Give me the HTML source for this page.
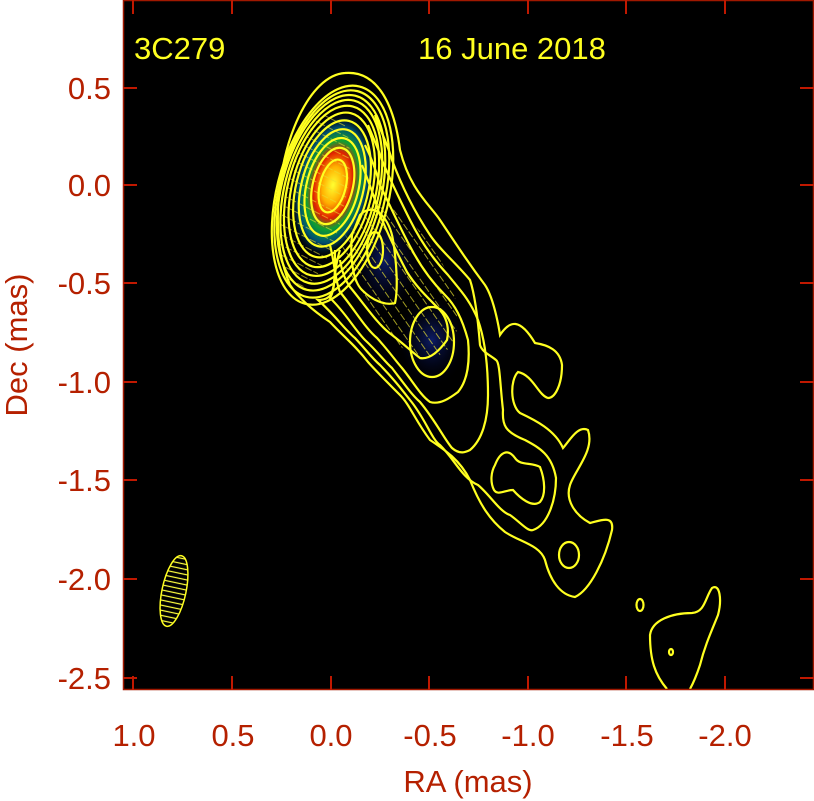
<!DOCTYPE html>
<html><head><meta charset="utf-8"><style>
html,body{margin:0;padding:0;background:#fff;}
svg{display:block;}
text{font-family:"Liberation Sans",sans-serif;}
</style></head><body>
<svg width="814" height="801" viewBox="0 0 814 801" xmlns="http://www.w3.org/2000/svg">
<defs>
<radialGradient id="core" cx="0.5" cy="0.5" r="0.5">
<stop offset="0" stop-color="#ffff30"/>
<stop offset="0.25" stop-color="#ffb000"/>
<stop offset="0.45" stop-color="#e02000"/>
<stop offset="0.6" stop-color="#10a030"/>
<stop offset="0.78" stop-color="#005070"/>
<stop offset="1" stop-color="#000010" stop-opacity="0"/>
</radialGradient>
<radialGradient id="blue" cx="0.5" cy="0.5" r="0.5">
<stop offset="0" stop-color="#0c1c66"/>
<stop offset="1" stop-color="#000010" stop-opacity="0"/>
</radialGradient>
<pattern id="hatch" width="6" height="5" patternUnits="userSpaceOnUse">
<line x1="0" y1="2.5" x2="6" y2="2.5" stroke="#ffff40" stroke-width="1.2"/>
</pattern>
<pattern id="pol" width="9" height="9" patternUnits="userSpaceOnUse" patternTransform="rotate(-5)">
<line x1="4" y1="0" x2="4" y2="7" stroke="#e8e030" stroke-width="1"/>
</pattern>
<pattern id="pol2" width="9" height="9" patternUnits="userSpaceOnUse" patternTransform="rotate(-75)">
<line x1="4" y1="0" x2="4" y2="7" stroke="#e8e030" stroke-width="1"/>
</pattern>
</defs>
<rect x="123" y="0" width="691" height="690" fill="#000"/>
<ellipse cx="385" cy="260" rx="35" ry="55" fill="url(#blue)"/>
<ellipse cx="432" cy="340" rx="35" ry="45" fill="url(#blue)"/>
<ellipse cx="400" cy="280" rx="45" ry="85" transform="rotate(-30 400 280)" fill="url(#pol)" opacity="0.7"/>
<ellipse cx="333" cy="185" rx="42" ry="75" transform="rotate(12 333 185)" fill="url(#core)"/>
<ellipse cx="315" cy="200" rx="30" ry="90" transform="rotate(12 315 200)" fill="url(#pol2)" opacity="0.6"/>
<g fill="none" stroke="#ffff20" stroke-width="2.2">
<path d="M345,73 C380,70 395,110 400,150 C410,190 430,205 440,220 C460,250 470,265 485,285 C495,300 500,335 500,335 C510,320 520,318 535,343 C548,345 560,350 562,365 C562,385 555,398 548,398 C538,395 533,375 518,372 C510,380 510,405 520,413 C535,420 555,430 563,448 C570,440 578,425 588,430 C595,450 575,470 570,485 C565,500 575,515 590,523 C602,520 614,515 612,530 C605,560 590,590 575,597 C560,595 550,580 545,560 C540,545 520,542 505,532 C490,520 480,505 470,480 C460,460 445,450 430,440 C415,420 410,405 400,395 C385,380 375,370 368,362 C355,345 345,338 330,322 C315,312 300,300 290,285 C280,260 277,240 278,210 C280,140 310,75 345,73 Z"/>
<path d="M340,250 C330,280 340,300 318,300 C335,315 345,330 355,338 C368,352 372,358 380,365 C395,380 402,390 410,400 C425,418 432,440 440,445 C455,460 462,478 478,485 C490,495 500,512 510,515 C520,522 528,532 533,530 C548,525 556,500 556,478 C552,455 540,448 525,440 C505,432 502,425 503,410 C500,385 500,362 496,360 C490,355 482,352 480,345 C478,320 475,295 470,280 C455,262 440,250 430,235 C420,220 405,195 392,160 C388,145 380,130 375,115"/>
<path d="M335,250 C335,275 335,290 330,298 C345,312 355,330 365,340 C378,352 385,362 392,368 C405,385 412,395 420,402 C435,420 445,440 452,448 C460,455 466,452 470,450 C482,440 488,420 488,395 C488,365 485,340 478,320 C470,300 460,290 448,275 C432,258 420,240 410,220 C400,200 390,180 382,160 C378,148 372,135 368,125"/>
<path d="M330,245 C335,265 335,280 340,292 C355,310 365,328 377,338 C388,350 395,360 402,368 C412,380 420,395 430,402 C440,405 450,398 458,392 C468,380 470,360 468,340 C462,318 455,305 445,295 C430,280 420,265 412,250 C402,232 392,210 380,185 C376,170 370,155 365,145"/>
<path d="M340,260 C342,272 345,280 350,287 C365,305 378,325 392,335 C405,345 412,352 420,358 C430,360 440,350 447,340 C450,325 445,315 438,308 C425,295 415,285 407,272 C398,255 388,235 378,210 C374,195 368,180 362,165"/>
<path d="M360,215 C375,200 390,220 393,240 C397,265 398,290 395,303 C385,306 372,300 362,290 C352,280 350,255 352,235 Z"/>
<path d="M495,465 C500,452 508,448 515,458 C520,466 532,462 540,467 C545,480 546,495 540,502 C532,508 520,498 513,490 C505,490 498,496 494,490 C490,482 491,472 495,465 Z"/>
<ellipse cx="432" cy="342" rx="22" ry="35"/>
<ellipse cx="375" cy="250" rx="8" ry="18"/>
<ellipse cx="569" cy="555" rx="10" ry="13"/>
<path d="M667,689 C655,675 650,660 650,635 C652,620 672,613 692,613 C705,612 705,598 712,588 C720,583 722,600 718,615 C712,630 705,645 700,665 C695,680 690,689 690,689"/>
<ellipse cx="640" cy="605" rx="3.5" ry="6"/>
<ellipse cx="671" cy="652" rx="2" ry="3"/>
<g transform="rotate(14 333 185)">
<ellipse cx="333" cy="186" rx="13" ry="27"/>
<ellipse cx="333" cy="186" rx="20" ry="39"/>
<ellipse cx="333" cy="187" rx="26" ry="50"/>
<ellipse cx="333" cy="188" rx="31" ry="60"/>
<ellipse cx="333" cy="189" rx="36" ry="70"/>
<ellipse cx="333" cy="190" rx="40" ry="79"/>
<ellipse cx="333" cy="191" rx="44" ry="87"/>
<ellipse cx="333" cy="192" rx="47" ry="94"/>
<ellipse cx="333" cy="193" rx="50" ry="100"/>
<ellipse cx="334" cy="194" rx="53" ry="106"/>
<ellipse cx="335" cy="195" rx="56" ry="112"/>
</g>
</g>
<ellipse cx="174" cy="591" rx="12" ry="36" transform="rotate(12 174 591)" fill="url(#hatch)" stroke="#ffff20" stroke-width="1.5"/>
<rect x="123.5" y="0.5" width="690" height="689" fill="none" stroke="#a01800" stroke-width="1.5"/>
<g stroke="#c01800" stroke-width="2">
<line x1="133" y1="690" x2="133" y2="676"/><line x1="232" y1="690" x2="232" y2="676"/><line x1="331" y1="690" x2="331" y2="676"/><line x1="429" y1="690" x2="429" y2="676"/><line x1="528" y1="690" x2="528" y2="676"/><line x1="626" y1="690" x2="626" y2="676"/><line x1="725" y1="690" x2="725" y2="676"/>
<line x1="133" y1="0" x2="133" y2="14"/><line x1="232" y1="0" x2="232" y2="14"/><line x1="331" y1="0" x2="331" y2="14"/><line x1="429" y1="0" x2="429" y2="14"/><line x1="528" y1="0" x2="528" y2="14"/><line x1="626" y1="0" x2="626" y2="14"/><line x1="725" y1="0" x2="725" y2="14"/>
<line x1="123" y1="88" x2="137" y2="88"/><line x1="123" y1="185" x2="137" y2="185"/><line x1="123" y1="283" x2="137" y2="283"/><line x1="123" y1="382" x2="137" y2="382"/><line x1="123" y1="480" x2="137" y2="480"/><line x1="123" y1="579" x2="137" y2="579"/><line x1="123" y1="678" x2="137" y2="678"/>
<line x1="814" y1="88" x2="800" y2="88"/><line x1="814" y1="185" x2="800" y2="185"/><line x1="814" y1="283" x2="800" y2="283"/><line x1="814" y1="382" x2="800" y2="382"/><line x1="814" y1="480" x2="800" y2="480"/><line x1="814" y1="579" x2="800" y2="579"/><line x1="814" y1="678" x2="800" y2="678"/>
</g>
<text x="134" y="59" font-size="31" fill="#ffff20">3C279</text>
<text x="418" y="59" font-size="31" fill="#ffff20">16 June 2018</text>
<g fill="#b52000" font-size="31">
<g text-anchor="end">
<text x="111" y="99">0.5</text><text x="111" y="196">0.0</text><text x="111" y="294">-0.5</text><text x="111" y="393">-1.0</text><text x="111" y="491">-1.5</text><text x="111" y="590">-2.0</text><text x="111" y="689">-2.5</text>
</g>
<g text-anchor="middle">
<text x="134" y="746">1.0</text><text x="233" y="746">0.5</text><text x="331" y="746">0.0</text><text x="430" y="746">-0.5</text><text x="528" y="746">-1.0</text><text x="627" y="746">-1.5</text><text x="725" y="746">-2.0</text>
<text x="468" y="792">RA (mas)</text>
<text x="0" y="0" transform="translate(27 345) rotate(-90)">Dec (mas)</text>
</g>
</g>
</svg>
</body></html>
